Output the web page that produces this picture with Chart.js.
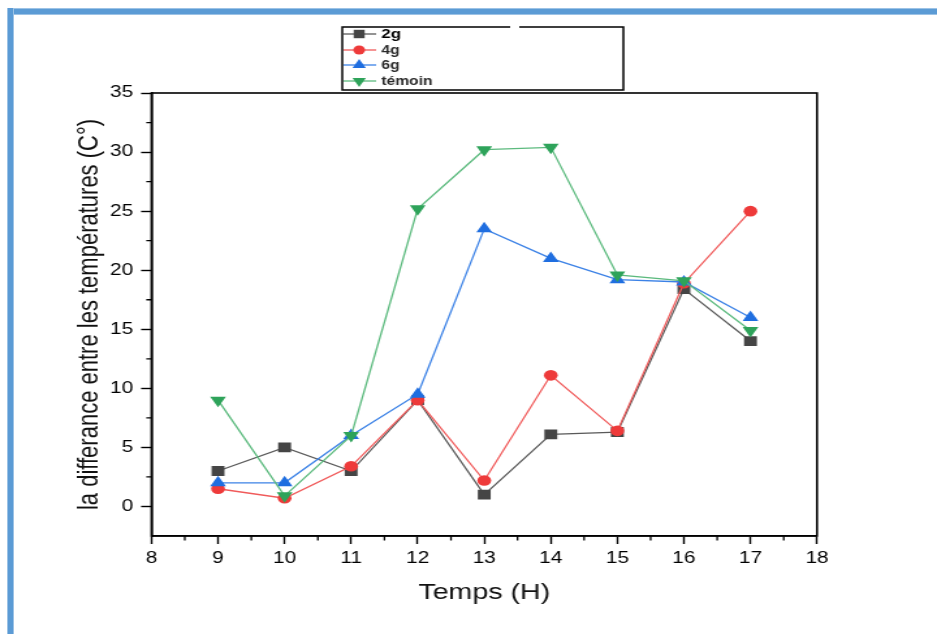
<!DOCTYPE html>
<html><head><meta charset="utf-8">
<script src="https://cdn.jsdelivr.net/npm/chart.js@4.4.1/dist/chart.umd.min.js"></script>
<style>
html,body{margin:0;padding:0;background:#fff;width:937px;height:634px;overflow:hidden;}
#wrap{position:absolute;left:0;top:0;width:720px;height:634px;transform:scaleX(1.30139);transform-origin:0 0;}
#c{display:block;}
.bt{position:absolute;left:7px;right:0;top:8px;height:5px;background:#5b9bd5;border-top:1px solid #9cc2e5;border-bottom:1px solid #9cc2e5;}
.bl{position:absolute;left:7px;top:8px;bottom:0;width:5px;background:#5b9bd5;border-left:1px solid #9cc2e5;border-right:1px solid #9cc2e5;}
</style></head>
<body>
<div id="wrap"><canvas id="c" width="720" height="634"></canvas></div>
<div class="bt"></div><div class="bl"></div>
<script>
// ---- data ----
const hours = [9, 10, 11, 12, 13, 14, 15, 16, 17];
const values2g = [3, 5, 3, 9, 1, 6.1, 6.3, 18.4, 14];
const values4g = [1.5, 0.7, 3.4, 9, 2.2, 11.1, 6.4, 18.9, 25];
const values6g = [2, 2, 6, 9.5, 23.5, 21, 19.2, 19, 16];
const valuesTemoin = [9, 0.9, 6, 25.2, 30.2, 30.4, 19.6, 19.1, 14.9];
const seriesLabels = ['2g', '4g', '6g', 'témoin'];
const yTickValues = [0, 5, 10, 15, 20, 25, 30, 35];
const yMinorValues = [2.5, 7.5, 12.5, 17.5, 22.5, 27.5, 32.5];
const xMinorValues = [8.5, 9.5, 10.5, 11.5, 12.5, 13.5, 14.5, 15.5, 16.5, 17.5];
const xTitle = 'Temps (H)';
const yTitle = 'la differance entre les températures (C°)';

const toPts = arr => hours.map((h, i) => ({x: h, y: arr[i]}));

const styles = [
  {line: '#5a5a5a', mark: '#454545', ps: 'rect', r: 7, rot: 0, order: 4},
  {line: '#f05a5a', mark: '#ee3a3a', ps: 'circle', r: 5.3, rot: 0, order: 3},
  {line: '#3c82e6', mark: '#1f6ee0', ps: 'triangle', r: 7, rot: 0, order: 2},
  {line: '#5cba7e', mark: '#2ea35a', ps: 'triangle', r: 7, rot: 180, order: 1}
];
const allValues = [values2g, values4g, values6g, valuesTemoin];

const datasets = allValues.map((v, i) => ({
  label: seriesLabels[i],
  data: toPts(v),
  borderColor: styles[i].line,
  backgroundColor: styles[i].mark,
  borderWidth: 1.3,
  pointStyle: styles[i].ps,
  pointRadius: styles[i].r,
  pointHoverRadius: styles[i].r,
  pointRotation: styles[i].rot,
  pointBackgroundColor: styles[i].mark,
  pointBorderColor: styles[i].mark,
  pointBorderWidth: 0,
  tension: 0,
  order: styles[i].order
}));

const framePlugin = {
  id: 'frame',
  afterDatasetsDraw(chart) {
    const {ctx, chartArea: a, scales} = chart;
    ctx.save();
    ctx.strokeStyle = '#000';
    ctx.lineWidth = 1.6;
    ctx.strokeRect(a.left, a.top, a.right - a.left, a.bottom - a.top);
    // minor ticks
    ctx.lineWidth = 1.3;
    ctx.beginPath();
    xMinorValues.forEach(v => {
      const px = scales.x.getPixelForValue(v);
      ctx.moveTo(px, a.bottom); ctx.lineTo(px, a.bottom + 4.5);
    });
    yMinorValues.forEach(v => {
      const py = scales.y.getPixelForValue(v);
      ctx.moveTo(a.left, py); ctx.lineTo(a.left - 4, py);
    });
    ctx.stroke();
    ctx.restore();
  }
};

const legendPlugin = {
  id: 'boxLegend',
  afterDraw(chart) {
    const ctx = chart.ctx;
    ctx.save();
    const bx = 263, by = 27, bw = 216, bh = 63;
    ctx.fillStyle = '#fff';
    ctx.fillRect(bx, by, bw, bh);
    ctx.strokeStyle = '#000';
    ctx.lineWidth = 1.5;
    ctx.beginPath();
    ctx.moveTo(392, by); ctx.lineTo(bx, by); ctx.lineTo(bx, by + bh);
    ctx.lineTo(bx + bw, by + bh); ctx.lineTo(bx + bw, by); ctx.lineTo(399, by);
    ctx.stroke();
    const rows = [34, 50, 65, 81];
    chart.data.datasets.forEach((ds, i) => {
      const y = rows[i];
      ctx.strokeStyle = ds.borderColor;
      ctx.lineWidth = 1.3;
      ctx.beginPath();
      ctx.moveTo(bx + 1, y); ctx.lineTo(289, y);
      ctx.stroke();
      ctx.fillStyle = ds.pointBackgroundColor;
      ctx.strokeStyle = ds.pointBackgroundColor;
      Chart.helpers.drawPoint(ctx, {pointStyle: ds.pointStyle, rotation: ds.pointRotation, radius: ds.pointRadius * 0.85, borderWidth: 0}, 276, y);
      ctx.fillStyle = i === 0 ? '#000' : '#2a2a2a';
      ctx.font = (i === 0 ? 'bold 13px ' : '600 12px ') + '"Liberation Sans", Arial, sans-serif';
      ctx.textBaseline = 'middle';
      ctx.textAlign = 'left';
      ctx.fillText(ds.label, 293, y + 0.5);
    });
    ctx.restore();
  }
};

const tickFont = {family: '"Liberation Sans", Arial, sans-serif', size: 16};

new Chart(document.getElementById('c'), {
  type: 'line',
  data: {datasets},
  options: {
    responsive: false,
    animation: false,
    devicePixelRatio: 1,
    events: [],
    layout: {padding: {left: 0, top: 93, right: 92.2, bottom: 0}},
    plugins: {legend: {display: false}, tooltip: {enabled: false}},
    scales: {
      x: {
        type: 'linear', min: 8, max: 18,
        ticks: {stepSize: 1, color: '#000', font: tickFont, padding: 5, maxRotation: 0},
        grid: {drawOnChartArea: false, drawTicks: true, tickLength: 8, color: '#000', tickWidth: 1.4},
        border: {display: true, color: '#000', width: 1.6},
        title: {display: true, text: xTitle, color: '#111', font: {family: '"Liberation Sans", Arial, sans-serif', size: 22}, padding: {top: 0, bottom: 28}},
        afterFit(s) { s.height = 98; }
      },
      y: {
        type: 'linear', min: -2.5, max: 35,
        afterBuildTicks(s) { s.ticks = yTickValues.map(v => ({value: v})); },
        ticks: {color: '#000', font: tickFont, padding: 6},
        grid: {drawOnChartArea: false, drawTicks: true, tickLength: 8, color: '#000', tickWidth: 1.4},
        border: {display: true, color: '#000', width: 1.6},
        title: {display: true, text: yTitle, color: '#111', font: {family: '"Liberation Sans", Arial, sans-serif', size: 22}, padding: {top: 56, bottom: 0}},
        afterFit(s) { s.width = 116.4; }
      }
    }
  },
  plugins: [framePlugin, legendPlugin]
});
</script>
</body></html>
